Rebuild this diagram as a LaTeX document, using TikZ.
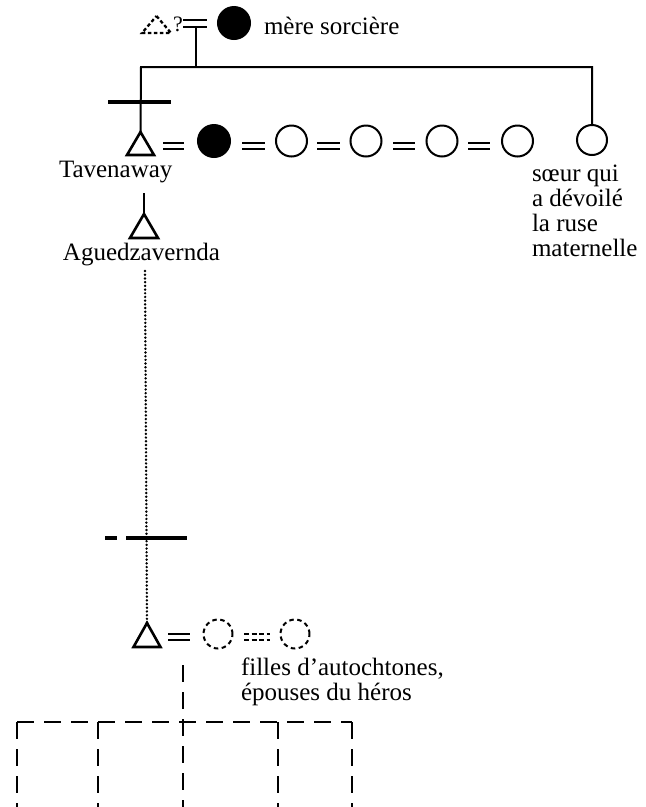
\documentclass[tikz,border=0pt]{standalone}
\usepackage{fontspec}
\setmainfont{Liberation Serif}
\begin{document}
\begin{tikzpicture}[x=1pt,y=-1pt, line width=2pt, line join=miter,
  lbl/.style={font=\fontsize{25}{25}\selectfont, inner sep=0pt, anchor=base west, align=left},
  circ/.style={circle, draw, line width=2pt, minimum size=31pt, inner sep=0pt},
  fcirc/.style={circ, fill=black},
  dcirc/.style={circ, minimum size=29pt, dash pattern=on 4.5pt off 3.5pt},
  tri/.style={draw, line width=2.6pt},
  eqline/.style={line width=2.3pt},
  bigbar/.style={line width=4pt},
  dotline/.style={line width=2.6pt, line cap=round, dash pattern=on 0.1pt off 3.6pt},
  dline/.style={line width=2pt, dash pattern=on 17pt off 10pt}
]
\useasboundingbox (0,0) rectangle (646,807);

% ---------- top generation ----------
\draw[tri, line width=2.3pt, dash pattern=on 3.5pt off 2.5pt] (156.5,16) coordinate (topA) -- (171,33) -- (142,33) -- cycle;
\node[lbl, font=\fontsize{22}{22}\selectfont] (q) at (172,31) {?};
\draw[eqline] (183,20) -- (207,20) (183,27) -- (207,27);
\coordinate (eqT) at (196,27);
\node[fcirc, minimum size=32pt] (mere) at (234,23) {};
\node[lbl] (mereL) at (263,34) {mère sorcière};

\coordinate (jM) at (196,67);
\coordinate (jL) at (141,67);
\coordinate (jR) at (592,67);

% ---------- middle generation ----------
\draw[tri] (140.5,132) coordinate (tavA) -- (154,155) -- (127,155) -- cycle;
\node[lbl] (tavL) at (58,177) {Tavenaway};
\draw[eqline] (163,143) -- (184,143) (163,149) -- (184,149);
\node[fcirc, minimum size=32pt] (w1) at (214,141) {};
\draw[eqline] (242,143) -- (265,143) (242,149) -- (265,149);
\node[circ] (w2) at (291.5,141) {};
\draw[eqline] (317,143) -- (340,143) (317,149) -- (340,149);
\node[circ] (w3) at (366,141) {};
\draw[eqline] (393,143) -- (415,143) (393,149) -- (415,149);
\node[circ] (w4) at (442,141) {};
\draw[eqline] (468,143) -- (490,143) (468,149) -- (490,149);
\node[circ] (w5) at (517.5,141) {};
\node[circ, minimum size=30pt] (sis) at (592,140) {};
\node[lbl, anchor=north west] (sisL) at (531,164)
  {sœur qui\\a dévoilé\\la ruse\\maternelle};

% descent lines
\draw (eqT) -- (jM);
\draw (tavA) -- (jL) -- (jR) -- (sis);
\draw[bigbar] (108,102) -- (171,102);

% ---------- Aguedzavernda ----------
\coordinate (tavB) at (144,193);
\draw[tri] (144,214) coordinate (agA) -- (158,238) -- (130,238) -- cycle;
\draw (tavB) -- (agA);
\node[lbl] (agL) at (62,260) {Aguedzavernda};

% ---------- hero ----------
\coordinate (agB) at (145,271);
\draw[tri] (147,623) coordinate (heroA) -- (160.5,647) -- (133.5,647) -- cycle;
\draw[dotline] (agB) -- (heroA);
\draw[line width=3.5pt] (105,538) -- (117,538) (126,538) -- (187,538);

\draw[eqline] (168,634) -- (190,634) (168,640) -- (190,640);
\node[dcirc] (f1) at (218,634) {};
\draw[eqline, dash pattern=on 5pt off 2.5pt] (244,634) -- (270,634) (244,640) -- (270,640);
\node[dcirc] (f2) at (295,634) {};
\node[lbl, anchor=base west] (fL) at (240,675) {filles d’autochtones,};
\node[lbl, anchor=base west] (fL2) at (240,700) {épouses du héros};

% ---------- descendants (dashed) ----------
\coordinate (dTop) at (183,665);
\coordinate (hL) at (17,722);
\coordinate (hR) at (352,722);
\coordinate (h2) at (98,722);
\coordinate (h4) at (278,722);
\coordinate (c1) at (17,807);
\coordinate (c2) at (98,807);
\coordinate (c3) at (183,807);
\coordinate (c4) at (278,807);
\coordinate (c5) at (352,807);
\draw[dline] (dTop) -- (c3);
\draw[dline] (hL) -- (hR);
\draw[dline] (hL) -- (c1);
\draw[dline] (h2) -- (c2);
\draw[dline] (h4) -- (c4);
\draw[dline] (hR) -- (c5);
\end{tikzpicture}
\end{document}
